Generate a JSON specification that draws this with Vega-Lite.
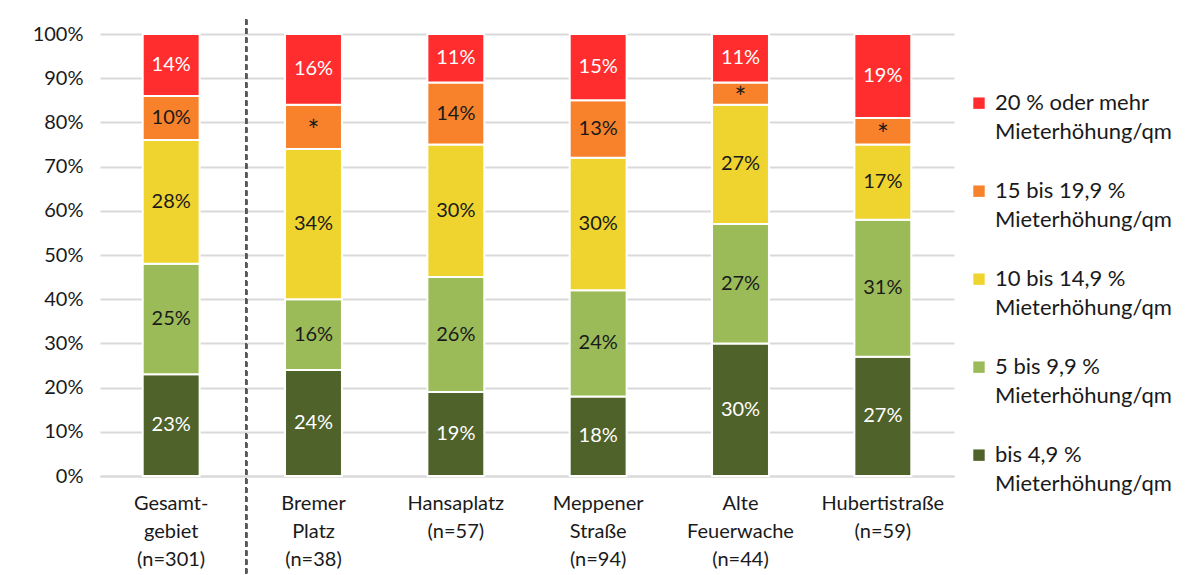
{
  "$schema": "https://vega.github.io/schema/vega-lite/v6.json",
  "autosize": {"type": "none"},
  "width": 854,
  "height": 442,
  "padding": {"left": 100, "top": 34, "right": 250, "bottom": 99},
  "background": "white",
  "config": {
    "font": "Lato",
    "view": {"stroke": null},
    "style": {"guide-label": {"lineHeight": 29}}
  },
  "data": {
    "values": [
      {"gebiet": "Gesamt-|gebiet|(n=301)", "stufe": 1, "klasse": "bis 4,9 % Mieterhöhung/qm", "anteil": 0.23, "beschriftung": "23%"},
      {"gebiet": "Gesamt-|gebiet|(n=301)", "stufe": 2, "klasse": "5 bis 9,9 % Mieterhöhung/qm", "anteil": 0.25, "beschriftung": "25%"},
      {"gebiet": "Gesamt-|gebiet|(n=301)", "stufe": 3, "klasse": "10 bis 14,9 % Mieterhöhung/qm", "anteil": 0.28, "beschriftung": "28%"},
      {"gebiet": "Gesamt-|gebiet|(n=301)", "stufe": 4, "klasse": "15 bis 19,9 % Mieterhöhung/qm", "anteil": 0.10, "beschriftung": "10%"},
      {"gebiet": "Gesamt-|gebiet|(n=301)", "stufe": 5, "klasse": "20 % oder mehr Mieterhöhung/qm", "anteil": 0.14, "beschriftung": "14%"},

      {"gebiet": "Bremer|Platz|(n=38)", "stufe": 1, "klasse": "bis 4,9 % Mieterhöhung/qm", "anteil": 0.24, "beschriftung": "24%"},
      {"gebiet": "Bremer|Platz|(n=38)", "stufe": 2, "klasse": "5 bis 9,9 % Mieterhöhung/qm", "anteil": 0.16, "beschriftung": "16%"},
      {"gebiet": "Bremer|Platz|(n=38)", "stufe": 3, "klasse": "10 bis 14,9 % Mieterhöhung/qm", "anteil": 0.34, "beschriftung": "34%"},
      {"gebiet": "Bremer|Platz|(n=38)", "stufe": 4, "klasse": "15 bis 19,9 % Mieterhöhung/qm", "anteil": 0.10, "beschriftung": "*"},
      {"gebiet": "Bremer|Platz|(n=38)", "stufe": 5, "klasse": "20 % oder mehr Mieterhöhung/qm", "anteil": 0.16, "beschriftung": "16%"},

      {"gebiet": "Hansaplatz|(n=57)", "stufe": 1, "klasse": "bis 4,9 % Mieterhöhung/qm", "anteil": 0.19, "beschriftung": "19%"},
      {"gebiet": "Hansaplatz|(n=57)", "stufe": 2, "klasse": "5 bis 9,9 % Mieterhöhung/qm", "anteil": 0.26, "beschriftung": "26%"},
      {"gebiet": "Hansaplatz|(n=57)", "stufe": 3, "klasse": "10 bis 14,9 % Mieterhöhung/qm", "anteil": 0.30, "beschriftung": "30%"},
      {"gebiet": "Hansaplatz|(n=57)", "stufe": 4, "klasse": "15 bis 19,9 % Mieterhöhung/qm", "anteil": 0.14, "beschriftung": "14%"},
      {"gebiet": "Hansaplatz|(n=57)", "stufe": 5, "klasse": "20 % oder mehr Mieterhöhung/qm", "anteil": 0.11, "beschriftung": "11%"},

      {"gebiet": "Meppener|Straße|(n=94)", "stufe": 1, "klasse": "bis 4,9 % Mieterhöhung/qm", "anteil": 0.18, "beschriftung": "18%"},
      {"gebiet": "Meppener|Straße|(n=94)", "stufe": 2, "klasse": "5 bis 9,9 % Mieterhöhung/qm", "anteil": 0.24, "beschriftung": "24%"},
      {"gebiet": "Meppener|Straße|(n=94)", "stufe": 3, "klasse": "10 bis 14,9 % Mieterhöhung/qm", "anteil": 0.30, "beschriftung": "30%"},
      {"gebiet": "Meppener|Straße|(n=94)", "stufe": 4, "klasse": "15 bis 19,9 % Mieterhöhung/qm", "anteil": 0.13, "beschriftung": "13%"},
      {"gebiet": "Meppener|Straße|(n=94)", "stufe": 5, "klasse": "20 % oder mehr Mieterhöhung/qm", "anteil": 0.15, "beschriftung": "15%"},

      {"gebiet": "Alte|Feuerwache|(n=44)", "stufe": 1, "klasse": "bis 4,9 % Mieterhöhung/qm", "anteil": 0.30, "beschriftung": "30%"},
      {"gebiet": "Alte|Feuerwache|(n=44)", "stufe": 2, "klasse": "5 bis 9,9 % Mieterhöhung/qm", "anteil": 0.27, "beschriftung": "27%"},
      {"gebiet": "Alte|Feuerwache|(n=44)", "stufe": 3, "klasse": "10 bis 14,9 % Mieterhöhung/qm", "anteil": 0.27, "beschriftung": "27%"},
      {"gebiet": "Alte|Feuerwache|(n=44)", "stufe": 4, "klasse": "15 bis 19,9 % Mieterhöhung/qm", "anteil": 0.05, "beschriftung": "*"},
      {"gebiet": "Alte|Feuerwache|(n=44)", "stufe": 5, "klasse": "20 % oder mehr Mieterhöhung/qm", "anteil": 0.11, "beschriftung": "11%"},

      {"gebiet": "Hubertistraße|(n=59)", "stufe": 1, "klasse": "bis 4,9 % Mieterhöhung/qm", "anteil": 0.27, "beschriftung": "27%"},
      {"gebiet": "Hubertistraße|(n=59)", "stufe": 2, "klasse": "5 bis 9,9 % Mieterhöhung/qm", "anteil": 0.31, "beschriftung": "31%"},
      {"gebiet": "Hubertistraße|(n=59)", "stufe": 3, "klasse": "10 bis 14,9 % Mieterhöhung/qm", "anteil": 0.17, "beschriftung": "17%"},
      {"gebiet": "Hubertistraße|(n=59)", "stufe": 4, "klasse": "15 bis 19,9 % Mieterhöhung/qm", "anteil": 0.06, "beschriftung": "*"},
      {"gebiet": "Hubertistraße|(n=59)", "stufe": 5, "klasse": "20 % oder mehr Mieterhöhung/qm", "anteil": 0.19, "beschriftung": "19%"}
    ]
  },
  "encoding": {
    "x": {
      "field": "gebiet",
      "type": "nominal",
      "sort": null,
      "scale": {"paddingInner": 0.6, "paddingOuter": 0.3},
      "axis": {
        "title": null,
        "labelExpr": "split(datum.label, '|')",
        "labelAngle": 0,
        "labelFontSize": 20,
        "labelColor": "#1a1a1a",
        "labelPadding": 17,
        "labelLineHeight": 28,
        "ticks": false,
        "domainColor": "#d9d9d9",
        "domainWidth": 2,
        "grid": false
      }
    }
  },
  "layer": [
    {
      "mark": {"type": "bar", "stroke": "white", "strokeWidth": 2},
      "encoding": {
        "y": {
          "field": "anteil",
          "type": "quantitative",
          "stack": "zero",
          "scale": {"domain": [0, 1], "nice": false},
          "axis": {
            "title": null,
            "values": [0, 0.1, 0.2, 0.3, 0.4, 0.5, 0.6, 0.7, 0.8, 0.9, 1],
            "format": ".0%",
            "labelFontSize": 20,
            "labelColor": "#1a1a1a",
            "labelPadding": 17,
            "ticks": false,
            "domain": false,
            "gridColor": "#d9d9d9",
            "gridWidth": 2
          }
        },
        "order": {"field": "stufe", "type": "quantitative"},
        "color": {
          "field": "klasse",
          "type": "nominal",
          "scale": {
            "domain": [
              "20 % oder mehr Mieterhöhung/qm",
              "15 bis 19,9 % Mieterhöhung/qm",
              "10 bis 14,9 % Mieterhöhung/qm",
              "5 bis 9,9 % Mieterhöhung/qm",
              "bis 4,9 % Mieterhöhung/qm"
            ],
            "range": ["#ff2d2d", "#f7822b", "#efd430", "#9bbb59", "#4f622a"]
          },
          "legend": {
            "title": null,
            "orient": "none",
            "legendX": 868,
            "legendY": 65,
            "padding": 0,
            "labelExpr": "[replace(datum.label, ' Mieterhöhung/qm', ''), 'Mieterhöhung/qm']",
            "labelFontSize": 22,
            "labelColor": "#1a1a1a",
            "labelBaseline": "alphabetic",
            "labelOffset": 5,
            "labelLimit": 400,
            "symbolType": "M-1,-2.2H1V-0.2H-1Z",
            "symbolSize": 130,
            "symbolStrokeWidth": 0,
            "symbolOpacity": 1,
            "rowPadding": 37
          }
        }
      }
    },
    {
      "mark": {"type": "text", "fontSize": 20, "baseline": "middle"},
      "encoding": {
        "y": {"field": "anteil", "type": "quantitative", "stack": "zero", "bandPosition": 0.5},
        "order": {"field": "stufe", "type": "quantitative"},
        "text": {
          "condition": {"test": "datum.beschriftung != '*'", "field": "beschriftung"},
          "value": ""
        },
        "color": {
          "condition": {"test": "datum.stufe == 1 || datum.stufe == 5", "value": "white"},
          "value": "#1a1a1a"
        }
      }
    },
    {
      "mark": {"type": "text", "fontSize": 28, "baseline": "middle", "dy": 6, "color": "#1a1a1a"},
      "encoding": {
        "y": {"field": "anteil", "type": "quantitative", "stack": "zero", "bandPosition": 0.5},
        "order": {"field": "stufe", "type": "quantitative"},
        "text": {
          "condition": {"test": "datum.beschriftung == '*'", "field": "beschriftung"},
          "value": ""
        }
      }
    },
    {
      "mark": {"type": "rule", "color": "#595959", "strokeWidth": 1.5, "strokeDash": [5, 4]},
      "encoding": {
        "x": {"datum": "Gesamt-|gebiet|(n=301)", "type": "nominal", "bandPosition": 1.82},
        "y": {"datum": 1.032, "type": "quantitative"},
        "y2": {"datum": -0.22}
      }
    }
  ]
}
